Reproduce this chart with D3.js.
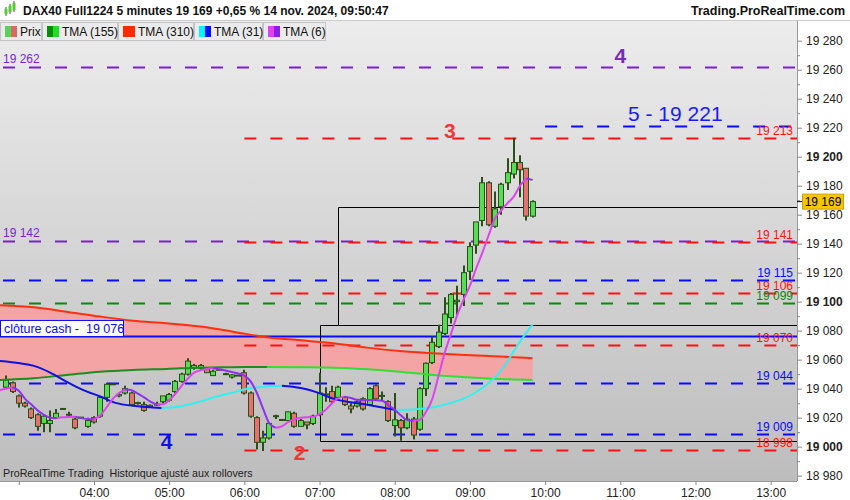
<!DOCTYPE html>
<html>
<head>
<meta charset="utf-8">
<script src="https://cdn.jsdelivr.net/npm/d3@7"></script>
<style>
  body { margin: 0; background: #fff; }
  svg text { font-family: "Liberation Sans", Arial, sans-serif; }
</style>
</head>
<body>
<div id="chart"></div>
<script>
// ---- data ----
// 5-minute bars: time, open, high, low, close
const candles = [
  ["02:50",19041,19049,19040,19046],["02:55",19044,19045,19037,19038],["03:00",19035,19036,19027,19030],
  ["03:05",19030,19031,19027,19028],["03:10",19026,19027,19019,19020],["03:15",19022,19023,19011,19014],
  ["03:20",19016,19022,19010,19021],["03:25",19016,19025,19010,19018],["03:30",19020,19026,19019,19023],
  ["03:35",19026,19026,19026,19026],["03:40",19022,19024,19021,19022],["03:45",19019,19020,19012,19013],
  ["03:50",19020,19020,19019,19020],["03:55",19014,19020,19013,19018],["04:00",19020,19021,19016,19017],
  ["04:05",19021,19035,19020,19034],["04:10",19034,19044,19031,19043],["04:15",19043,19043,19043,19043],
  ["04:20",19035,19037,19034,19036],["04:25",19037,19042,19036,19040],["04:30",19037,19038,19028,19029],
  ["04:35",19030,19031,19029,19030],["04:40",19029,19031,19024,19025],["04:45",19027.5,19029,19027,19028.5],
  ["04:50",19029,19031,19028,19029],["04:55",19031,19035,19030,19035],["05:00",19032,19037,19031,19036],
  ["05:05",19038,19046,19037,19045],["05:10",19045,19051,19044,19050],["05:15",19050,19061,19049,19059],
  ["05:20",19054,19057,19053,19056],["05:25",19054,19057,19053,19056],["05:30",19054,19055,19051,19051],
  ["05:35",19049,19053,19049,19052],["05:40",19053,19053,19053,19053],["05:45",19050,19051,19050,19050],
  ["05:50",19048,19050,19047,19049.5],["05:55",19049,19049,19049,19049],["06:00",19051,19053,19036,19037],
  ["06:05",19037,19038,19020,19021],["06:10",19020,19021,18998,19003],["06:15",19003,19011,18997,19006],
  ["06:20",19006,19017,19005,19016],["06:25",19021,19022,19019,19021],["06:30",19018.4,19019,19018,19018.4],
  ["06:35",19018,19024,19018,19024],["06:40",19023,19024,19013,19014],["06:45",19014,19019,19014,19018],
  ["06:50",19017,19017,19012,19015],["06:55",19016,19022,19015,19021],["07:00",19022,19051,19021,19037],
  ["07:05",19036,19041,19031,19036],["07:10",19038,19042,19030,19031],["07:15",19034,19042,19033,19041],
  ["07:20",19034,19035,19028,19029],["07:25",19028,19030,19023,19026],["07:30",19028,19032,19027,19031],
  ["07:35",19033,19034,19025,19026],["07:40",19029,19041,19028,19040],["07:45",19042,19043,19032,19033],
  ["07:50",19035,19038,19032,19035],["07:55",19031,19032,19017,19018],["08:00",19014.5,19037,19007,19018.5],
  ["08:05",19018,19019,19004,19013],["08:10",19013,19023,19012,19019],["08:15",19019,19020.5,19005,19008],
  ["08:20",19012,19041,19011,19040],["08:25",19040,19058,19035,19057.5],["08:30",19058,19076,19057,19072],
  ["08:35",19069,19084,19068,19079],["08:40",19078,19103,19077,19091.5],["08:45",19089,19106,19085,19105],
  ["08:50",19100,19111,19091,19101],["08:55",19105,19125,19097,19120],["09:00",19121,19141,19115,19138],
  ["09:05",19139,19155,19133,19155],["09:10",19156,19186,19152,19182],["09:15",19182,19183,19152,19153],
  ["09:20",19152,19176,19151,19164],["09:25",19165.5,19182,19160,19181],["09:30",19182,19199,19177,19189],
  ["09:35",19188,19213,19185,19196],["09:40",19196,19201,19172,19191],["09:45",19192,19192,19156,19159],
  ["09:50",19159,19170,19158,19169]
];

// moving averages: time, value
const tma6 = [
  ["02:45",19039],["02:55",19041],["03:00",19038.5],["03:05",19033],["03:10",19029],["03:15",19025],
  ["03:20",19022],["03:25",19020],["03:30",19019.6],["03:35",19020.3],["03:45",19020.7],["03:55",19019],
  ["04:00",19018.8],["04:05",19021.5],["04:10",19027],["04:15",19033],["04:20",19037],["04:25",19039.5],
  ["04:30",19039],["04:35",19036.5],["04:40",19034],["04:45",19031],["04:50",19029],["04:55",19029.3],
  ["05:00",19032],["05:05",19036.5],["05:10",19042],["05:15",19047],["05:20",19051],["05:30",19053.5],
  ["05:35",19054],["05:45",19052.5],["05:50",19051.5],["05:55",19050.5],["06:00",19049],["06:05",19045],
  ["06:10",19037],["06:15",19026],["06:20",19016],["06:25",19013],["06:30",19014],["06:35",19017],
  ["06:40",19019],["06:45",19020],["06:55",19020.7],["07:00",19022.5],["07:05",19025.5],["07:10",19030],
  ["07:15",19033.5],["07:20",19034.5],["07:25",19033.5],["07:30",19032.3],["07:40",19032.2],["07:50",19031.6],
  ["07:55",19028.5],["08:00",19025.5],["08:05",19021.5],["08:10",19018.3],["08:15",19017.8],["08:20",19018.5],
  ["08:25",19024],["08:30",19033],["08:35",19049],["08:40",19065],["08:45",19078],["08:50",19091],
  ["08:55",19101.5],["09:00",19111],["09:05",19123],["09:10",19134],["09:15",19146],["09:20",19157.5],
  ["09:25",19163],["09:30",19168],["09:35",19172.5],["09:40",19180],["09:45",19185],["09:50",19184]
];
const tma31 = [
  ["02:45",19059.1],["03:01",19057.5],["03:12",19055.7],["03:25",19051.1],["03:38",19044.9],["03:51",19039.2],
  ["04:05",19034.6],["04:18",19030],["04:31",19028.2],["04:42",19027.3],["04:54",19026.6],["05:06",19027.3],
  ["05:25",19031.2],["05:38",19034.6],["05:51",19037.4],["06:05",19040.4],["06:18",19041.5],["06:30",19042],
  ["06:45",19040.4],["06:58",19037.4],["07:11",19033.1],["07:38",19028.9],["08:01",19025.3],["08:17",19025.8],
  ["08:31",19027.2],["08:44",19030],["08:55",19033.1],["09:05",19037.7],["09:16",19044.6],["09:27",19054.9],
  ["09:37",19068.7],["09:50",19084.3]
];
const maTimes = ["02:45","03:12","03:38","04:05","04:31","04:58","05:25","05:51","06:18","06:45",
                 "07:11","07:38","08:04","08:31","08:57","09:24","09:50"];
const tma155 = [19046,19047.2,19049.4,19051.7,19052.9,19053.6,19054.5,19054.8,19055,19054.8,
                19054.5,19053.4,19051.7,19049.4,19047.9,19046.7,19046];
const tma310 = [19097.5,19096.1,19093.1,19089.7,19086.9,19085.1,19082.8,19079.3,19075.4,19073.4,
                19071.3,19068.3,19066,19064.4,19063.2,19062.1,19061];

// horizontal levels: value, start time, kind
const levels = [
  [19262,"02:45","purple"],[19221,"10:00","blue"],[19213,"06:00","red"],[19142,"02:45","purple"],
  [19141,"06:00","red"],[19115,"02:45","blue"],[19106,"06:00","red"],[19099,"02:45","green"],
  [19070,"06:00","red"],[19044,"02:45","blue"],[19009,"02:45","blue"],[18998,"06:00","red"]
];
const rightLabels = [[19213,"red"],[19141,"red"],[19115,"blue"],[19106,"red"],[19099,"green"],
                     [19070,"red"],[19044,"blue"],[19009,"blue"],[18998,"red"]];
const leftLabels = [[19262,"purple"],[19142,"purple"]];
const cashClose = 19076;
const lastPrice = 19169;
const target5 = 19221;
// boxes: start time, top value, bottom value
const boxes = [["07:15",19165,19084],["07:00",19084,19004]];
// big annotations: text, time, baseline value, kind
const marks = [["4","11:00",19264.5,"purple"],["3","08:44",19213,"red"],["2","06:44",18991,"red"],["4","04:58",18998.5,"blue"]];
const xTickLabels = ["03:00","04:00","05:00","06:00","07:00","08:00","09:00","10:00","11:00","12:00","13:00"];
const legendItems = ["Prix","TMA (155)","TMA (310)","TMA (31)","TMA (6)"];

// ---- layout ----
const W = 850, H = 500;
const PR = 797, PT = 21, PB = 481;
const toMin = s => { const [h, m] = s.split(":").map(Number); return h * 60 + m; };
const fmt = d3.formatLocale({decimal: ",", thousands: " ", grouping: [3], currency: ["", ""]}).format(",");

const x = d3.scaleLinear().domain([toMin("02:45"), toMin("13:21")]).range([0, PR]);
const y = d3.scaleLinear().domain([18976.3, 19293.6]).range([PB, PT]);

const colors = {purple: "#7d1fd0", blue: "#0a0aff", red: "#ff1010", green: "#0a8a0a"};
const markColors = {purple: "#7a2ab8", blue: "#1212e0", red: "#e83a3a"};

const svg = d3.select("#chart").append("svg").attr("width", W).attr("height", H);
const defs = svg.append("defs");
const grad = defs.append("linearGradient").attr("id", "bg").attr("x1", 0).attr("y1", 0).attr("x2", 0).attr("y2", 1);
grad.append("stop").attr("offset", "0%").attr("stop-color", "#ececec");
grad.append("stop").attr("offset", "100%").attr("stop-color", "#bdbdbd");
defs.append("clipPath").attr("id", "plotclip").append("rect")
  .attr("x", 0).attr("y", PT).attr("width", PR).attr("height", PB - PT);

svg.append("rect").attr("width", W).attr("height", H).attr("fill", "#fff");
svg.append("rect").attr("x", 0).attr("y", PT).attr("width", PR).attr("height", PB - PT).attr("fill", "url(#bg)");

const g = svg.append("g").attr("clip-path", "url(#plotclip)");

// pink band between TMA 310 and TMA 155
const bandPts = maTimes.map((t, i) => [x(toMin(t)), y(tma310[i])])
  .concat(maTimes.map((t, i) => [x(toMin(t)), y(tma155[i])]).reverse());
g.append("path").attr("d", d3.line()(bandPts) + "Z").attr("fill", "#f4a4a4");

// levels
levels.forEach(([v, t, k]) => {
  const x0 = x(toMin(t));
  g.append("line").attr("x1", x0).attr("x2", PR).attr("y1", Math.round(y(v)) + 0.5).attr("y2", Math.round(y(v)) + 0.5)
    .attr("stroke", colors[k]).attr("stroke-width", 2).attr("stroke-dasharray", "12,14")
    .attr("stroke-dashoffset", x0 < 1 ? 23 : 0);
});

// cash close
g.append("line").attr("x1", 0).attr("x2", PR).attr("y1", y(cashClose)).attr("y2", y(cashClose))
  .attr("stroke", "#0a0aff").attr("stroke-width", 2);

// boxes
boxes.forEach(([t, top, bot]) => {
  g.append("path")
    .attr("d", `M${PR},${Math.round(y(top)) + 0.5}H${Math.round(x(toMin(t))) + 0.5}V${Math.round(y(bot)) + 0.5}H${PR}`)
    .attr("fill", "none").attr("stroke", "#000").attr("stroke-width", 1);
});

// two-colour moving average: split into rising / falling runs
function drawMA(pts, upColor, downColor, width) {
  const line = d3.line().x(d => x(toMin(d[0]))).y(d => y(d[1])).curve(d3.curveMonotoneX);
  let run = [pts[0]], dir = null;
  for (let i = 1; i < pts.length; i++) {
    const d = pts[i][1] >= pts[i - 1][1] ? "up" : "down";
    if (dir && d !== dir) {
      g.append("path").attr("d", line(run)).attr("fill", "none")
        .attr("stroke", dir === "up" ? upColor : downColor).attr("stroke-width", width);
      run = [pts[i - 1]];
    }
    dir = d;
    run.push(pts[i]);
  }
  g.append("path").attr("d", line(run)).attr("fill", "none")
    .attr("stroke", dir === "up" ? upColor : downColor).attr("stroke-width", width);
}

// candles
const cg = g.append("g");
const dark = "#2b4f17";
candles.forEach(([t, o, h, l, c]) => {
  const cx = Math.round(x(toMin(t)));
  cg.append("line").attr("x1", cx).attr("x2", cx).attr("y1", y(h)).attr("y2", y(l))
    .attr("stroke", dark).attr("stroke-width", 2);
  if (Math.abs(o - c) < 0.6) {
    cg.append("rect").attr("x", cx - 3).attr("y", y(c) - 1).attr("width", 6).attr("height", 2).attr("fill", dark);
  } else {
    const top = y(Math.max(o, c)), bot = y(Math.min(o, c));
    cg.append("rect").attr("x", cx - 2.5).attr("y", top).attr("width", 5).attr("height", Math.max(1, bot - top))
      .attr("fill", c > o ? "#55dd55" : "#e87070").attr("stroke", dark).attr("stroke-width", 1);
  }
});

drawMA(maTimes.map((t, i) => [t, tma310[i]]), "#ff3010", "#ff3010", 2);
drawMA(maTimes.map((t, i) => [t, tma155[i]]), "#1e8c1e", "#33dd33", 2);
drawMA(tma31, "#33f0f0", "#1010e0", 2);
drawMA(tma6, "#dd44ee", "#9030f0", 2);

// level labels
rightLabels.forEach(([v, k]) => {
  g.append("text").attr("x", 793).attr("y", y(v) - 3).attr("text-anchor", "end")
    .attr("font-size", 12).attr("fill", colors[k]).text(fmt(v));
});
leftLabels.forEach(([v, k]) => {
  g.append("text").attr("x", 3).attr("y", y(v) - 4).attr("font-size", 12).attr("fill", colors[k]).text(fmt(v));
});

// cash close tag
const cy = y(cashClose);
g.append("rect").attr("x", 0.5).attr("y", cy - 16).attr("width", 123).attr("height", 16)
  .attr("fill", "#fff").attr("stroke", "#0a0aff").attr("stroke-width", 1);
g.append("text").attr("x", 4).attr("y", cy - 3.5).attr("font-size", 12.5).attr("fill", "#0a0aff")
  .attr("xml:space", "preserve").text("clôture cash -  " + fmt(cashClose));

// big annotations
marks.forEach(([s, t, v, k]) => {
  g.append("text").attr("x", x(toMin(t))).attr("y", y(v)).attr("text-anchor", "middle")
    .attr("font-size", 21).attr("font-weight", "bold").attr("fill", markColors[k]).text(s);
});
g.append("text").attr("x", 628).attr("y", y(target5) - 5).attr("font-size", 21).attr("fill", "#1a1aff")
  .text("5 - " + fmt(target5));

g.append("text").attr("x", 3).attr("y", 477).attr("font-size", 10.7).attr("fill", "#222")
  .attr("xml:space", "preserve").text("ProRealTime Trading  Historique ajusté aux rollovers");

// right axis
svg.append("line").attr("x1", PR + 0.5).attr("x2", PR + 0.5).attr("y1", PT).attr("y2", PB).attr("stroke", "#999");
const yAxis = d3.axisRight(y).tickValues(d3.range(18980, 19281, 20)).tickSize(5).tickPadding(4)
  .tickFormat(v => fmt(v));
const ya = svg.append("g").attr("transform", `translate(${PR},0)`).call(yAxis);
ya.select(".domain").remove();
ya.selectAll(".tick line").attr("stroke", "#888");
ya.selectAll(".tick text").attr("font-size", 12).attr("fill", "#222")
  .attr("font-weight", v => v % 100 === 0 ? "bold" : "normal")
  .style("font-family", "'Liberation Sans', Arial, sans-serif");
const yMinor = d3.axisRight(y).tickValues(d3.range(18990, 19281, 20)).tickSize(3).tickFormat("");
const ym = svg.append("g").attr("transform", `translate(${PR},0)`).call(yMinor);
ym.select(".domain").remove();
ym.selectAll(".tick line").attr("stroke", "#888");

// last price tag
const ly = y(lastPrice);
svg.append("line").attr("x1", PR).attr("x2", PR + 5).attr("y1", ly).attr("y2", ly).attr("stroke", "#000");
svg.append("rect").attr("x", 802.5).attr("y", ly - 7.5).attr("width", 41).attr("height", 15)
  .attr("fill", "#f7c600").attr("stroke", "#c9a200");
svg.append("text").attr("x", 823).attr("y", ly + 4.5).attr("text-anchor", "middle").attr("font-size", 12)
  .attr("fill", "#000").text(fmt(lastPrice));

// bottom axis
svg.append("line").attr("x1", 0).attr("x2", PR).attr("y1", PB + 0.5).attr("y2", PB + 0.5).attr("stroke", "#999");
const xAxis = d3.axisBottom(x).tickValues(xTickLabels.map(toMin)).tickSize(4).tickPadding(3)
  .tickFormat((v, i) => i === 0 ? "" : xTickLabels[i]);
const xa = svg.append("g").attr("transform", `translate(0,${PB})`).call(xAxis);
xa.select(".domain").remove();
xa.selectAll(".tick line").attr("stroke", "#888");
xa.selectAll(".tick text").attr("font-size", 12).attr("fill", "#222")
  .style("font-family", "'Liberation Sans', Arial, sans-serif");

// header
svg.append("rect").attr("width", W).attr("height", PT).attr("fill", "#fff");
svg.append("line").attr("x1", 0).attr("x2", W).attr("y1", PT - 0.5).attr("y2", PT - 0.5).attr("stroke", "#ccc");
[[6, 9, 14], [10, 6, 12], [14, 3, 10]].forEach(([cx, t, b]) => {
  svg.append("line").attr("x1", cx).attr("x2", cx).attr("y1", t - 2).attr("y2", b + 2).attr("stroke", "#2b6a10").attr("stroke-width", 1);
  svg.append("rect").attr("x", cx - 1.5).attr("y", t).attr("width", 3).attr("height", b - t).attr("fill", "#55cc33");
});
svg.append("text").attr("x", 23).attr("y", 15).attr("font-size", 12).attr("font-weight", "bold").attr("fill", "#111")
  .text("DAX40 Full1224 5 minutes 19 169 +0,65 % 14 nov. 2024, 09:50:47");
svg.append("text").attr("x", 845).attr("y", 15).attr("text-anchor", "end").attr("font-size", 12.5)
  .attr("font-weight", "bold").attr("fill", "#111").text("Trading.ProRealTime.com");

// legend row
const swatches = [["#5ad25a", "#e06666"], ["#0a8a0a", "#22dd22"], ["#ff2a00", "#ff2a00"], ["#00f6f6", "#0010ff"], ["#dd44ee", "#8a1ef0"]];
const widths = [41, 75, 75, 68, 62];
let lx = 0;
legendItems.forEach((name, i) => {
  const lg = svg.append("g").attr("transform", `translate(${lx},${PT + 1})`);
  lg.append("rect").attr("x", 0.5).attr("y", 0.5).attr("width", widths[i]).attr("height", 18)
    .attr("fill", "#ebebeb").attr("stroke", "#c4c4c4");
  lg.append("rect").attr("x", 5).attr("y", 4).attr("width", 6).attr("height", 11).attr("fill", swatches[i][0]);
  lg.append("rect").attr("x", 11).attr("y", 4).attr("width", 6).attr("height", 11).attr("fill", swatches[i][1]);
  lg.append("text").attr("x", 20).attr("y", 14).attr("font-size", 12).attr("fill", "#111").text(name);
  lx += widths[i] + 1;
});
</script>
</body>
</html>
